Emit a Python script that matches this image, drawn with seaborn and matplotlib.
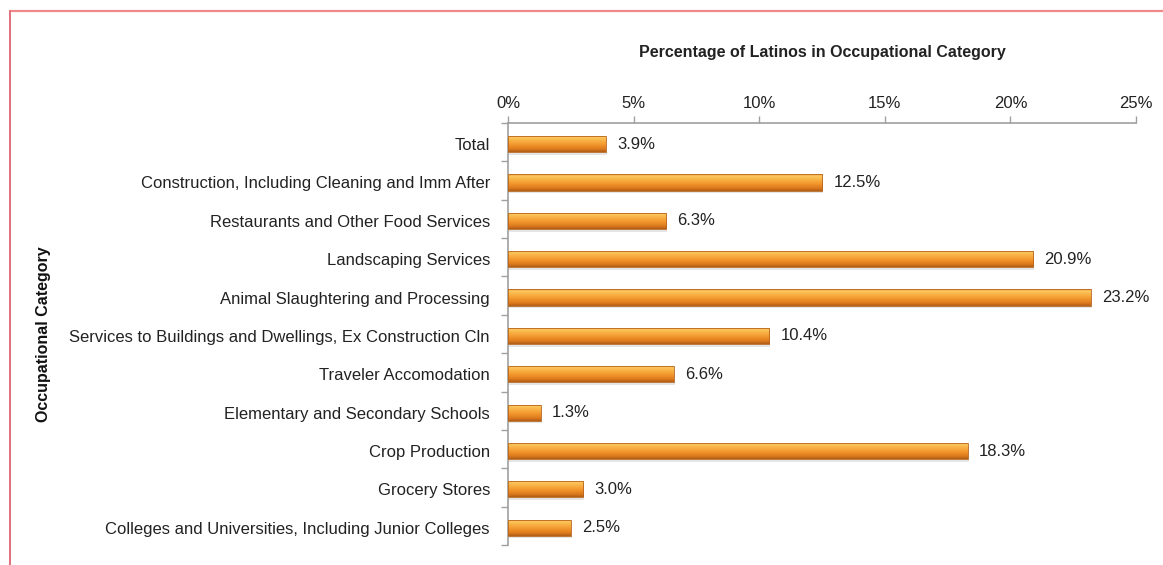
import numpy as np
import pandas as pd
import matplotlib
matplotlib.use("Agg")
import matplotlib.pyplot as plt
import seaborn as sns
from matplotlib.colors import LinearSegmentedColormap
from matplotlib.lines import Line2D
from matplotlib.ticker import FixedLocator, PercentFormatter

categories = [
    "Total",
    "Construction, Including Cleaning and Imm After",
    "Restaurants and Other Food Services",
    "Landscaping Services",
    "Animal Slaughtering and Processing",
    "Services to Buildings and Dwellings, Ex Construction Cln",
    "Traveler Accomodation",
    "Elementary and Secondary Schools",
    "Crop Production",
    "Grocery Stores",
    "Colleges and Universities, Including Junior Colleges",
]
percent_latino = [3.9, 12.5, 6.3, 20.9, 23.2, 10.4, 6.6, 1.3, 18.3, 3.0, 2.5]
x_ticks = [0, 5, 10, 15, 20, 25]

df = pd.DataFrame({"category": categories, "pct": percent_latino})

sns.set_theme(style="white")
plt.rcParams["font.family"] = ["Liberation Sans", "DejaVu Sans"]

fig = plt.figure(figsize=(11.63, 5.65), dpi=100)
ax = fig.add_axes([0.4368, 0.0354, 0.9768 - 0.4368, 0.7823 - 0.0354])

sns.barplot(data=df, x="pct", y="category", orient="h", color="#f0962a",
            width=0.42, ax=ax, edgecolor="none", linewidth=0)

# vertical gradient fill for each bar (light top, orange middle, brown bottom)
bar_cmap = LinearSegmentedColormap.from_list(
    "bar_shade",
    [(0.0, "#e8922e"), (0.1, "#fbca62"), (0.35, "#f8ae40"),
     (0.6, "#f1932a"), (0.85, "#da771c"), (1.0, "#ad5c18")])
grad = np.linspace(0, 1, 64).reshape(-1, 1)
for patch in list(ax.patches):
    x0, y0 = patch.get_x(), patch.get_y()
    w, h = patch.get_width(), patch.get_height()
    # soft shadow under the bar
    ax.add_patch(plt.Rectangle((x0 + 0.04, y0 + 0.07), w, h, facecolor="#000000",
                               alpha=0.10, edgecolor="none", zorder=1))
    img = ax.imshow(grad, cmap=bar_cmap, aspect="auto",
                    extent=(x0, x0 + w, y0 + h, y0), origin="upper",
                    interpolation="bicubic", zorder=3)
    img.set_clip_path(patch)
    patch.set_zorder(2)
    ax.add_patch(plt.Rectangle((x0, y0), w, h, facecolor="none",
                               edgecolor="#b8661e", linewidth=0.6, zorder=4))
ax.set_xlim(0, 25)
ax.set_ylim(len(categories) - 0.55, -0.55)

# value labels
for i, v in enumerate(percent_latino):
    ax.text(v + 0.45, i, f"{v:.1f}%", va="center", ha="left",
            fontsize=12, color="#222222")

# axes styling: value axis on top, categories on the left
ax.xaxis.tick_top()
ax.xaxis.set_label_position("top")
ax.xaxis.set_major_locator(FixedLocator(x_ticks))
ax.xaxis.set_major_formatter(PercentFormatter(decimals=0))
ax.set_xlabel("Percentage of Latinos in Occupational Category",
              fontsize=11.5, fontweight="bold", labelpad=28, color="#222222")
ax.set_ylabel("Occupational Category", fontsize=11.5, fontweight="bold",
              labelpad=13, color="#111111")

for side in ["bottom", "right"]:
    ax.spines[side].set_visible(False)
for side in ["top", "left"]:
    ax.spines[side].set_color("#a0a0a0")
    ax.spines[side].set_linewidth(1.2)

ax.tick_params(axis="x", which="major", top=True, bottom=False, length=5,
               width=1.0, color="#a0a0a0", labelsize=12, labelcolor="#222222",
               pad=4, direction="out")
ax.yaxis.set_minor_locator(FixedLocator(np.arange(-0.55, len(categories), 1.0)))
ax.tick_params(axis="y", which="major", left=False, length=0, labelsize=12,
               labelcolor="#222222", pad=13)
ax.tick_params(axis="y", which="minor", left=True, length=5, width=1.0,
               color="#a0a0a0", direction="out")

# thin red frame along the top and left edges of the figure
fig.add_artist(Line2D([9.5 / 1163, 1.0], [1 - 10.5 / 565, 1 - 10.5 / 565],
                      transform=fig.transFigure, color="#f08a8a", linewidth=1.6))
fig.add_artist(Line2D([9.5 / 1163, 9.5 / 1163], [0.0, 1 - 10.5 / 565],
                      transform=fig.transFigure, color="#e0707a", linewidth=1.4))

fig.savefig("out.png", dpi=100)
